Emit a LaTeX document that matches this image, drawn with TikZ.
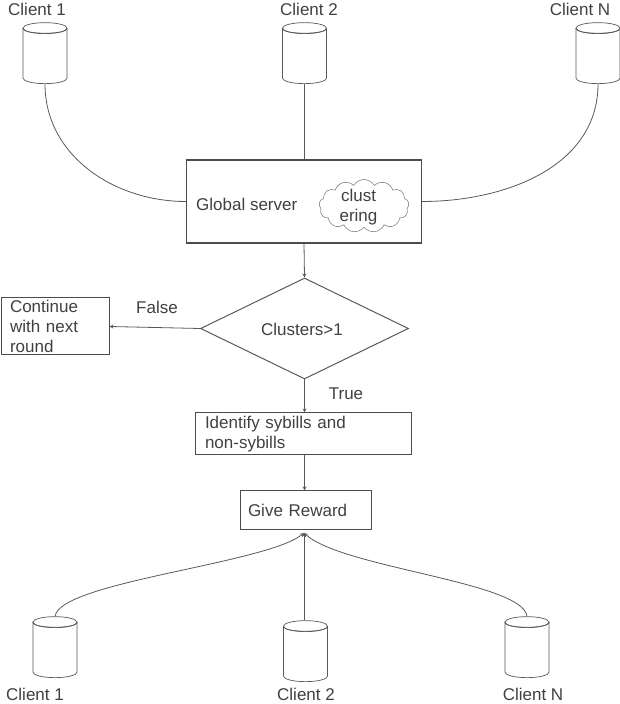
\documentclass[tikz,border=0pt]{standalone}
\usepackage{fontspec}
\setmainfont{Liberation Sans}
\usetikzlibrary{shapes.geometric,shapes.symbols,arrows,positioning,calc}
\newcommand{\clientbody}{\hspace*{44pt}}

\begin{document}
\begin{tikzpicture}[
    x=1pt, y=1pt,
    every node/.style={text=black!75},
    label/.style={font=\fontsize{17}{20}\selectfont, inner sep=0pt},
    client/.style={cylinder, shape border rotate=90, draw=black!65, shape aspect=0.25, minimum width=44pt, minimum height=61pt, inner sep=0pt, line width=0.7pt, anchor=south},
    block/.style={rectangle, draw=black!70, line width=1pt, inner sep=0pt, font=\fontsize{17}{20}\selectfont},
    link/.style={draw=black!65, line width=0.8pt},
    arrow/.style={->, >=stealth, draw=black!65, line width=0.8pt}
]
    \useasboundingbox (0,0) rectangle (620,704);

    % Clients on top
    \node[client] (top1) at (45,620) {\clientbody};
    \node[client] (top2) at (304.5,620) {\clientbody};
    \node[client] (topN) at (598,620) {\clientbody};
    \node[label] (ltop1) at (37,695) {Client 1};
    \node[label] (ltop2) at (309,695) {Client 2};
    \node[label] (ltopN) at (580,695) {Client N};

    % Server
    \node[block, line width=1.2pt, minimum width=235pt, minimum height=83pt] (server) at (304,502.5) {};
    \node[label, anchor=west] (global) at (196,500) {Global server};
    \node[cloud, draw=black!65, cloud puffs=13, cloud puff arc=120, aspect=1.7, minimum width=90pt, minimum height=53pt, inner sep=0pt] (cluster) at (364,498) {};
    \node[label, align=center] (clustext) at (358.5,497) {clust\\ering};

    % Decision and results
    \node[diamond, draw=black!65, line width=1pt, minimum width=208pt, minimum height=101pt, inner sep=0pt, aspect=2] (check) at (304.5,375.5) {};
    \node[label] (checktext) at (302,375) {Clusters>1};
    \node[block, minimum width=108pt, minimum height=57pt, align=left, text width=90pt] (next) at (55,377.5) {Continue\\with next\\round};
    \node[block, minimum width=216pt, minimum height=42pt, align=left, text width=196pt] (identify) at (303,270) {Identify sybills and\\non-sybills};
    \node[block, minimum width=131pt, minimum height=39pt, align=left, text width=115pt] (reward) at (305.5,193.5) {Give Reward};
    \node[label] (false) at (157,397) {False};
    \node[label] (true) at (346,310) {True};

    % Clients at the bottom
    \node[client] (bot1) at (55,26) {\clientbody};
    \node[client] (bot2) at (305.5,22) {\clientbody};
    \node[client] (botN) at (527,26) {\clientbody};
    \node[label] (lbot1) at (35,9.5) {Client 1};
    \node[label] (lbot2) at (306,9.5) {Client 2};
    \node[label] (lbotN) at (533,9.5) {Client N};

    % Cylinder rims
    \foreach \c in {top1,top2,topN,bot1,bot2,botN}
        \draw[link, line width=0.7pt] (\c.before top) to[out=-90, in=-90, looseness=0.39] (\c.after top);

    % Connections
    \coordinate (tip) at (304,171);
    \draw[link] (top1.south) to[out=-90, in=180] (server.west);
    \draw[link] (top2.south) -- (top2.south |- server.north);
    \draw[link] (topN.south) to[out=-90, in=0] (server.east);
    \draw[arrow] (server.south) -- (check.north);
    \draw[arrow] (check.west) -- (next.east);
    \draw[arrow] (check.south) -- (identify.north -| check.south);
    \draw[arrow] (identify.south -| check.south) -- (reward.north -| check.south);
    \draw[arrow] (bot1.north) .. controls (60,122) and (265,140) .. (tip);
    \draw[arrow] (botN.north) .. controls (523,122) and (343,136) .. (tip);
    \draw[arrow] (bot2.north -| tip) -- (tip);
\end{tikzpicture}
\end{document}
